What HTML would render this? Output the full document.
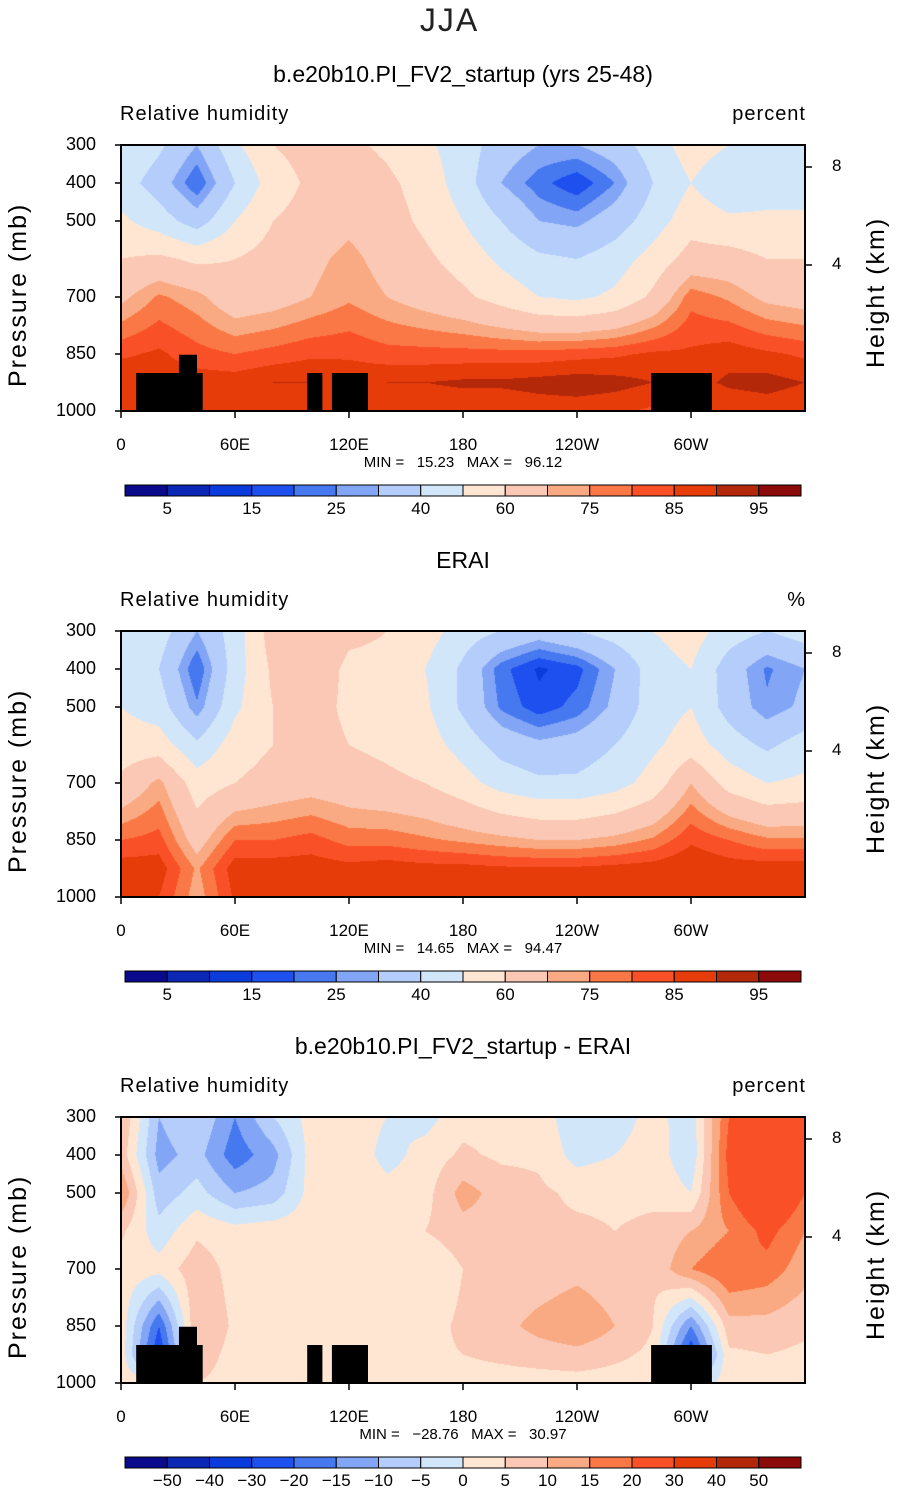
<!DOCTYPE html>
<html><head><meta charset="utf-8">
<style>
body{margin:0;background:#fff;}
#root{position:relative;width:899px;height:1493px;overflow:hidden;font-family:"Liberation Sans",sans-serif;color:#000;}
.t{position:absolute;white-space:nowrap;}
canvas{position:absolute;}
svg{position:absolute;left:0;top:0;}
</style></head><body>
<div id="root">
<div class="t" style="left:0;width:899px;text-align:center;top:2px;font-size:32px;font-weight:300;color:#222;letter-spacing:2px;">JJA</div>
</div>
<script>
// ---- data ----
const lons=[0,20,40,60,80,100,120,140,160,180,200,220,240,260,280,300,320,340,360];
const levels=[300,400,500,600,700,850,925,1000];
const modelRH=[
[50,42,30,48,60,64,62,58,52,45,35,30,30,35,45,55,50,50,50],
[45,35,20,40,55,62,66,62,56,45,30,22,16,25,40,50,42,45,45],
[52,45,35,50,60,64,68,64,58,50,40,30,28,35,45,56,52,52,52],
[60,62,58,60,64,68,72,67,62,56,48,42,40,45,54,64,64,60,60],
[68,76,72,64,66,70,74,70,66,62,56,50,48,52,62,78,74,68,66],
[84,86,82,80,82,84,84,82,82,82,82,82,83,84,86,86,88,86,84],
[90,88,88,88,90,90,89,90,90,91,91,92,93,92,90,88,91,92,90],
[86,85,85,85,86,86,86,86,86,86,86,87,87,86,84,84,86,87,86]];
const eraRH=[
[50,45,30,45,65,70,62,60,55,45,40,35,40,45,50,55,45,40,45],
[45,40,20,45,62,66,58,58,50,38,22,14,18,30,45,50,35,24,30],
[50,45,26,48,60,64,58,56,52,38,24,17,22,32,45,50,36,26,32],
[55,55,42,55,60,64,60,58,55,46,36,32,34,40,48,55,45,38,45],
[62,72,55,60,64,66,64,62,60,54,46,42,42,46,54,70,56,50,52],
[80,82,66,80,80,82,78,78,76,74,72,70,70,72,76,84,80,76,76],
[88,88,74,88,88,88,87,88,87,87,86,86,86,87,88,90,88,88,88],
[86,85,72,86,86,86,86,86,86,86,86,86,86,86,88,89,86,86,86]];
const diffRH=[
[10,-10,-5,-15,-5,2,3,0,-2,3,3,3,-4,-3,2,-3,20,25,20],
[8,-12,-8,-18,-12,2,4,-2,2,6,4,4,-2,0,3,-4,22,28,22],
[15,-8,-3,-10,-8,2,5,2,3,12,8,6,4,4,4,0,20,30,20],
[6,-3,4,2,3,3,4,2,5,8,8,6,6,5,6,10,15,22,15],
[3,2,8,3,4,2,3,2,0,5,6,6,8,6,6,15,20,18,12],
[3,-20,10,4,3,3,2,2,3,6,8,12,15,10,5,-15,8,8,6],
[3,-25,8,3,3,3,3,3,4,5,6,7,8,6,4,-25,4,5,4],
[3,3,5,3,3,3,3,3,3,3,3,3,3,3,3,-5,3,3,3]];
const rhLevels=[5,10,15,20,25,30,40,50,60,70,75,80,85,90,95];
const rhLabels=["5","15","25","40","60","75","85","95"];
const diffLevels=[-50,-40,-30,-20,-15,-10,-5,0,5,10,15,20,30,40,50];
const diffLabels=["−50","−40","−30","−20","−15","−10","−5","0","5","10","15","20","30","40","50"];
const palette=["#0a0a8c","#0a28b4","#0a3cdc","#1e50f0","#4678f0","#82a5f5","#b4cdfa","#d2e6fa","#ffe6d2","#fac8b4","#faaa82","#fa7846","#fa5028","#e63c0a","#b4280a","#8c0a0a"];
const topo=[[8,43,900],[30.5,40,852],[98,106,900],[111,130,900],[279,311,900]];
const pTicks=[300,400,500,700,850,1000];
const lonTicks=[0,60,120,180,240,300];
const lonTickLabels=["0","60E","120E","180","120W","60W"];
const hTicks=[[8,167],[4,265]];
const panels=[
 {title:"b.e20b10.PI_FV2_startup (yrs 25-48)",units:"percent",data:modelRH,lev:rhLevels,lab:rhLabels,labEvery:2,min:"15.23",max:"96.12",topo:true},
 {title:"ERAI",units:"%",data:eraRH,lev:rhLevels,lab:rhLabels,labEvery:2,min:"14.65",max:"94.47",topo:false},
 {title:"b.e20b10.PI_FV2_startup - ERAI",units:"percent",data:diffRH,lev:diffLevels,lab:diffLabels,labEvery:1,min:"−28.76",max:"30.97",topo:true}];

const root=document.getElementById('root');
const X0=121,X1=805,PW=X1-X0,PH=266;
function xs(l){return X0+l/360*PW;}
function interp(data,lon,p){
 let i=Math.min(17,Math.floor(lon/20)),fx=(lon-lons[i])/20;
 let j=0;while(j<levels.length-2&&p>levels[j+1])j++;
 let fy=(p-levels[j])/(levels[j+1]-levels[j]);
 const a=data[j][i],b=data[j][i+1],c=data[j+1][i],d=data[j+1][i+1];
 return (a*(1-fx)+b*fx)*(1-fy)+(c*(1-fx)+d*fx)*fy;
}
function cls(v,lev){let k=0;while(k<lev.length&&v>=lev[k])k++;return k;}
function hex(h){return [parseInt(h.substr(1,2),16),parseInt(h.substr(3,2),16),parseInt(h.substr(5,2),16)];}
const rgb=palette.map(hex);
function txt(s,x,y,size,align,name){
 const d=document.createElement('div');d.className='t';d.textContent=s;
 d.style.fontSize=size+'px';d.style.top=y+'px';
 if(align==='c'){d.style.left=(x-250)+'px';d.style.width='500px';d.style.textAlign='center';}
 else if(align==='r'){d.style.left=(x-300)+'px';d.style.width='300px';d.style.textAlign='right';}
 else d.style.left=x+'px';
 
 
 root.appendChild(d);return d;
}
const NS="http://www.w3.org/2000/svg";
const svg=document.createElementNS(NS,'svg');svg.setAttribute('width',899);svg.setAttribute('height',1493);
function el(tag,attrs,name){const e=document.createElementNS(NS,tag);for(const k in attrs)e.setAttribute(k,attrs[k]);
 
 
 svg.appendChild(e);return e;}

panels.forEach((P,n)=>{
 const off=n*486, top=145+off;
 const yp=p=>top+(p-300)/700*PH;
 txt(P.title,463,61+off,23,'c','panel-title');
 const vl=txt("Relative humidity",120,103+off,20,'l','variable-label');vl.style.letterSpacing='1px';
 const ul=txt(P.units,806,103+off,20,'r','units-label');ul.style.letterSpacing='1px';
 const cv=document.createElement('canvas');cv.width=PW;cv.height=PH;cv.style.left=X0+'px';cv.style.top=top+'px';
 
 
 root.appendChild(cv);
 const ctx=cv.getContext('2d');const img=ctx.createImageData(PW,PH);
 for(let y=0;y<PH;y++){const p=300+(y+0.5)/PH*700;
  for(let x=0;x<PW;x++){const lon=(x+0.5)/PW*360;
   const c=rgb[cls(interp(P.data,lon,p),P.lev)];const o=(y*PW+x)*4;
   img.data[o]=c[0];img.data[o+1]=c[1];img.data[o+2]=c[2];img.data[o+3]=255;}}
 ctx.putImageData(img,0,0);
 if(P.topo) topo.forEach(t=>{el('rect',{x:xs(t[0]),y:yp(t[2]),width:xs(t[1])-xs(t[0]),height:yp(1000)-yp(t[2]),fill:'#000'},'topography-mask');});
 el('rect',{x:X0,y:top,width:PW,height:PH,fill:'none',stroke:'#000','stroke-width':2},'plot-frame');
 pTicks.forEach(p=>{el('line',{x1:X0-6,x2:X0,y1:yp(p),y2:yp(p),stroke:'#000','stroke-width':1.5},'y-tick');
   txt(String(p),96,yp(p)-11,18,'r','y-tick-label');});
 hTicks.forEach(h=>{el('line',{x1:X1,x2:X1+7,y1:h[1]+off,y2:h[1]+off,stroke:'#000','stroke-width':1.5},'height-tick');
   txt(String(h[0]),832,h[1]+off-11,17,'l','height-tick-label');});
 lonTicks.forEach((l,k)=>{el('line',{x1:xs(l),x2:xs(l),y1:top+PH,y2:top+PH+7,stroke:'#000','stroke-width':1.5},'x-tick');
   txt(lonTickLabels[k],xs(l),top+PH+24,17,'c','x-tick-label');});
 const yl=txt("Pressure (mb)",20,0,25,'l','y-axis-title');yl.style.letterSpacing='2px';
 yl.style.transformOrigin='0 0';yl.style.transform='rotate(-90deg)';yl.style.left='4px';yl.style.top=(387+off)+'px';
 const hl=txt("Height (km)",0,0,25,'l','height-axis-title');hl.style.letterSpacing='2px';
 hl.style.transformOrigin='0 0';hl.style.transform='rotate(-90deg)';hl.style.left='862px';hl.style.top=(368+off)+'px';
 txt("MIN =   "+P.min+"   MAX =   "+P.max,463,454+off,15,'c','min-max-label').style.whiteSpace='pre';
 const cb0=125,cbw=(801-125)/16,cy=485+off;
 palette.forEach((c,k)=>{el('rect',{x:cb0+k*cbw,y:cy,width:cbw,height:11,fill:c,stroke:'#000','stroke-width':1},'colorbar-box');});
 P.lab.forEach((s,k)=>{const b=P.labEvery===2?2*k+1:k+1;txt(s,cb0+b*cbw,cy+14,17,'c','colorbar-label');});
});
root.appendChild(svg);
</script>
</body></html>
